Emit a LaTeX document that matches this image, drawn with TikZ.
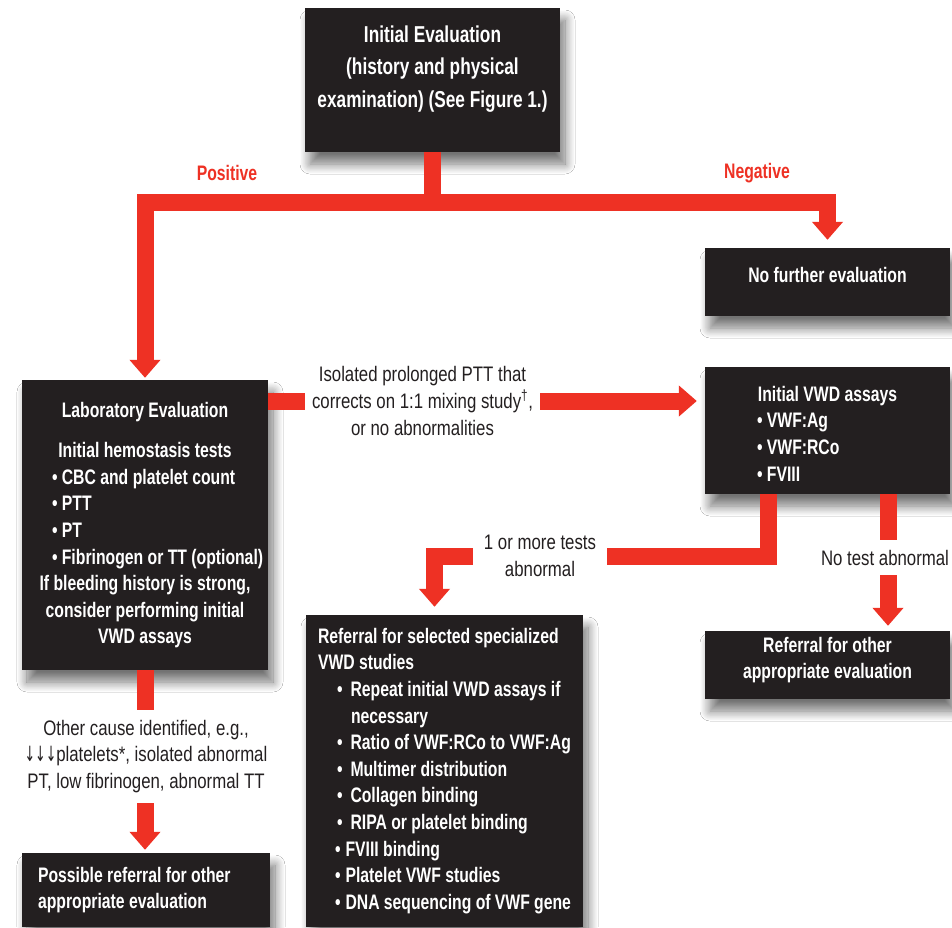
\documentclass[tikz,border=0pt]{standalone}
\usepackage{fontspec}
\setmainfont[FakeStretch=0.8]{Liberation Sans}
\newfontfamily\boxfamily[FakeStretch=0.75]{Liberation Sans}
\newfontfamily\arrowfamily[FakeStretch=0.6]{DejaVu Sans}
\usetikzlibrary{arrows.meta,shadows.blur}
\definecolor{boxbg}{HTML}{231F20}
\definecolor{conred}{HTML}{EE3124}
\definecolor{txtgray}{HTML}{231F20}
\newcommand\boxfnt{\boxfamily\bfseries\fontsize{21}{26.6}\selectfont}
\newcommand\topfnt{\boxfamily\bfseries\fontsize{23}{32.5}\selectfont}
\newcommand\lblfnt{\fontsize{21}{26.6}\selectfont}
\newcommand\redfnt{\boxfamily\bfseries\fontsize{21}{26.6}\selectfont}
\newcommand\btext[3]{\raisebox{#1}[\height][\depth]{\parbox{#2}{#3}}}
\newcommand\bul{\textbullet\ }
\tikzset{
  box/.style={fill=boxbg, text=white, inner sep=0pt, font=\boxfnt,
    blur shadow={shadow xshift=5pt, shadow yshift=-12pt, shadow blur radius=10pt, shadow blur steps=12, shadow opacity=55}},
  lbl/.style={text=txtgray, inner sep=0pt, align=center, font=\lblfnt},
  redlbl/.style={text=conred, inner sep=0pt, font=\redfnt},
  conn/.style={draw=conred, line width=17pt},
  tip/.style={arrows={-Triangle[length=18pt,width=30pt]}},
  tipboth/.style={arrows={Triangle[length=18pt,width=30pt]-Triangle[length=18pt,width=30pt]}}
}
\begin{document}
\begin{tikzpicture}[x=1pt,y=1pt]
\useasboundingbox (0,0) rectangle (952,-927);
\fill[white] (0,0) rectangle (952,-927);

% boxes
\node[box, minimum width=255, minimum height=144] (init) at (432.5,-80)
  {\btext{11pt}{250pt}{\centering\topfnt Initial Evaluation\\
   (history and physical\\ examination) (See Figure 1.)}};
\node[box, minimum width=245, minimum height=68] (nofurther) at (827.5,-282)
  {\btext{7pt}{240pt}{\centering No further evaluation}};
\node[box, minimum width=246, minimum height=290] (lab) at (145,-525)
  {\btext{0pt}{240pt}{\centering Laboratory Evaluation\\[14pt]
   Initial hemostasis tests\\
   \makebox[186pt][l]{\bul CBC and platelet count}\\
   \makebox[186pt][l]{\bul PTT}\\
   \makebox[186pt][l]{\bul PT}\\
   \makebox[186pt][l]{\bul Fibrinogen or TT (optional)}\\
   If bleeding history is strong,\\
   consider performing initial\\
   VWD assays}};
\node[box, minimum width=245, minimum height=127] (vwd) at (827.5,-430.5)
  {\btext{-3pt}{240pt}{\centering Initial VWD assays\\
   \makebox[141pt][l]{\bul VWF:Ag}\\
   \makebox[141pt][l]{\bul VWF:RCo}\\
   \makebox[141pt][l]{\bul FVIII}}};
\node[box, minimum width=245, minimum height=68] (refother) at (827.5,-665)
  {\btext{5pt}{240pt}{\centering Referral for other\\ appropriate evaluation}};
\node[box, minimum width=277, minimum height=312] (spec) at (444.5,-771)
  {\btext{0pt}{253pt}{\raggedright Referral for selected specialized\\
   VWD studies\\
   \hspace*{19pt}\textbullet\hspace{8pt}Repeat initial VWD assays if\\
   \hspace*{33pt}necessary\\
   \hspace*{19pt}\textbullet\hspace{8pt}Ratio of VWF:RCo to VWF:Ag\\
   \hspace*{19pt}\textbullet\hspace{8pt}Multimer distribution\\
   \hspace*{19pt}\textbullet\hspace{8pt}Collagen binding\\
   \hspace*{19pt}\textbullet\hspace{8pt}RIPA or platelet binding\\
   \hspace*{17pt}\textbullet\hspace{5pt}FVIII binding\\
   \hspace*{17pt}\textbullet\hspace{5pt}Platelet VWF studies\\
   \hspace*{17pt}\textbullet\hspace{5pt}DNA sequencing of VWF gene}};
\node[box, minimum width=248, minimum height=74] (possible) at (146,-890)
  {\btext{0pt}{216pt}{\raggedright Possible referral for other\\ appropriate evaluation}};

% labels
\node[redlbl] (pos) at (227,-173) {Positive};
\node[redlbl] (neg) at (757,-173) {Negative};
\node[lbl, minimum width=235] (iso) at (422.5,-401)
  {Isolated prolonged PTT that\\ corrects on 1:1 mixing study\textsuperscript{†},\\ or no abnormalities};
\node[lbl, minimum width=134] (ormore) at (540,-556) {1 or more tests\\ abnormal};
\node[lbl, minimum height=35] (notest) at (885,-557.5) {No test abnormal};
\node[lbl, minimum height=93] (other) at (146,-756.5)
  {Other cause identified, e.g.,\\ {\arrowfamily ↓↓↓}platelets*, isolated abnormal\\ PT, low fibrinogen, abnormal TT};

% connectors
\coordinate (fork) at (init.south |- 0,-202);
\draw[conn] (init.south) -- (fork);
\draw[conn, tipboth, shorten <=2pt, shorten >=8pt] (lab.north) |- (fork) -| (nofurther.north);

\draw[conn] (lab.east |- iso.west) -- (iso.west);
\draw[conn, tip, shorten >=8pt] (iso.east) -- (vwd.west |- iso.east);

\coordinate (va) at ([xshift=-59.5pt]vwd.south);
\draw[conn] (va) |- (ormore.east);
\draw[conn, tip, shorten >=8pt] (ormore.west) -| ([xshift=-10pt]spec.north);

\coordinate (vb) at ([xshift=60.5pt]vwd.south);
\draw[conn] (vb) -- (vb |- notest.north);
\draw[conn, tip, shorten >=5pt] (vb |- notest.south) -- (vb |- refother.north);

\draw[conn] (lab.south) -- (lab.south |- other.north);
\draw[conn, tip, shorten >=3pt] (lab.south |- other.south) -- (lab.south |- possible.north);
\end{tikzpicture}
\end{document}
